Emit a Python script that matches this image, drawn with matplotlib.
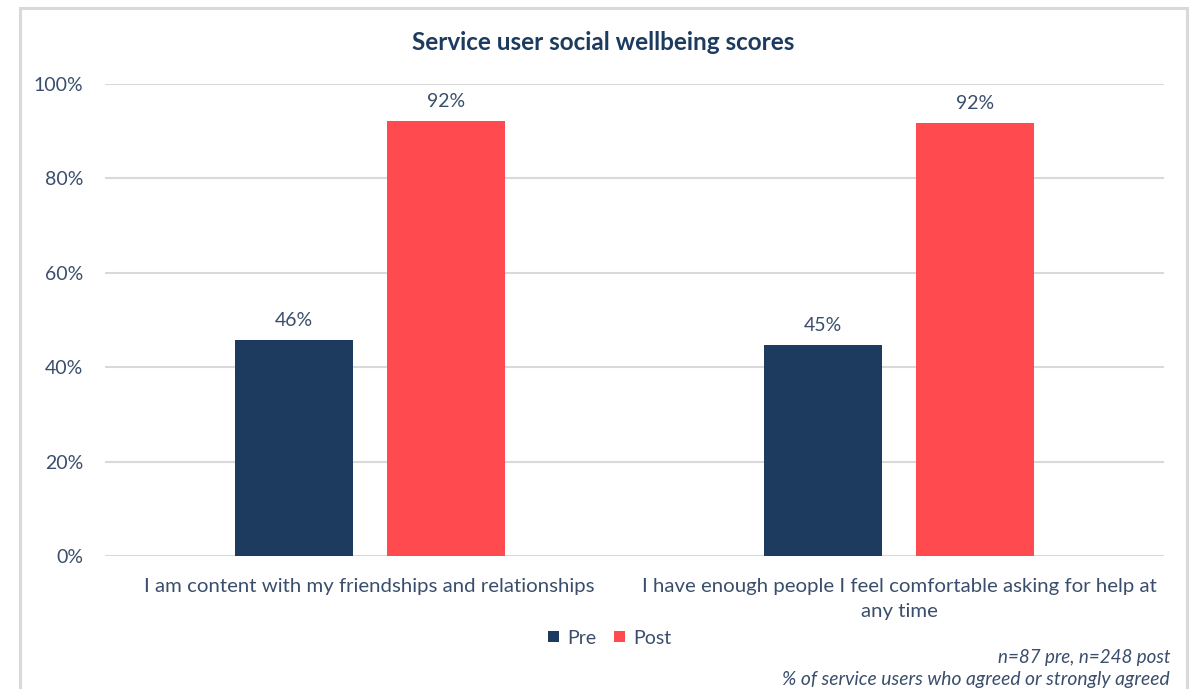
import matplotlib
matplotlib.use("Agg")
import matplotlib.pyplot as plt
from matplotlib.patches import Rectangle
import numpy as np

# Survey results: share of service users who agreed or strongly agreed
categories = [
    "I am content with my friendships and relationships",
    "I have enough people I feel comfortable asking for help at\nany time",
]
series_names = ["Pre", "Post"]
pre_values = [45.8, 44.7]
post_values = [92.2, 91.7]
y_ticks = [0, 20, 40, 60, 80, 100]

navy = "#1D3A5F"
red = "#FF4B4F"
text_col = "#3A4E6C"
grid_col = "#D9D9D9"

plt.rcParams["font.family"] = ["Lato", "DejaVu Sans"]

fig = plt.figure(figsize=(11.92, 6.89), dpi=100)
W, H = 1192, 689

# outer chart frame
fig.patches.append(Rectangle((20 / W, -0.05), (1187 - 20) / W, 1.05 - 8 / H,
                             transform=fig.transFigure, fill=False,
                             edgecolor="#D9D9D9", linewidth=2.2))

ax = fig.add_axes([105 / W, 1 - 556 / H, (1164 - 105) / W, (556 - 84) / H])

x = np.arange(len(categories))
width = 0.223
offset = 0.1434
bars_pre = ax.bar(x - offset, pre_values, width, color=navy, label=series_names[0], zorder=3)
bars_post = ax.bar(x + offset, post_values, width, color=red, label=series_names[1], zorder=3)

for bars in (bars_pre, bars_post):
    for b in bars:
        v = b.get_height()
        ax.annotate(f"{v:.0f}%", (b.get_x() + b.get_width() / 2, v),
                    xytext=(0, 8), textcoords="offset points",
                    ha="center", va="bottom", fontsize=14, color=text_col)

ax.set_xlim(-0.5, 1.5)
ax.set_ylim(0, 100)
ax.set_yticks(y_ticks)
ax.set_yticklabels([f"{t}%" for t in y_ticks])
ax.set_xticks(x)
ax.set_xticklabels(categories, linespacing=1.55)
ax.tick_params(axis="y", length=0, pad=15.5, labelsize=14, labelcolor=text_col)
ax.tick_params(axis="x", length=0, pad=16, labelsize=14.7, labelcolor=text_col)
ax.grid(axis="y", color=grid_col, linewidth=1.5, zorder=0)
for s in ax.spines.values():
    s.set_visible(False)

fig.text(603 / W, 1 - 43 / H, "Service user social wellbeing scores",
         ha="center", va="center", fontsize=17.5, fontweight="bold", color=navy)

fig.legend(handles=[bars_pre, bars_post], labels=series_names,
           loc="center", bbox_to_anchor=(610 / W, 1 - 638 / H), ncol=2,
           frameon=False, fontsize=14, handlelength=0.55, handleheight=0.55,
           handletextpad=0.45, columnspacing=0.9, labelcolor=text_col)

fig.text(1170 / W, 1 - 657 / H, "n=87 pre, n=248 post", ha="right", va="center",
         fontsize=13.5, style="italic", color=text_col)
fig.text(1170 / W, 1 - 679 / H, "% of service users who agreed or strongly agreed",
         ha="right", va="center", fontsize=13.9, style="italic", color=text_col)

fig.savefig("out.png", dpi=100, facecolor="white")
